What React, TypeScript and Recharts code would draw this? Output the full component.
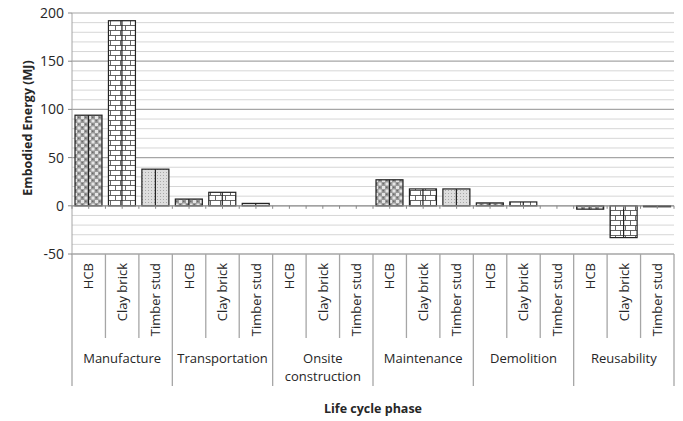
import { Bar, BarChart, CartesianGrid, ReferenceLine, XAxis, YAxis } from "recharts";

// Embodied energy per life cycle phase, one bar per wall material.

const phases = [
  ["Manufacture"],
  ["Transportation"],
  ["Onsite", "construction"],
  ["Maintenance"],
  ["Demolition"],
  ["Reusability"],
];
const materials = ["HCB", "Clay brick", "Timber stud"];

const hcb = [94, 7, 0, 27, 3, -3.5];
const clayBrick = [192, 14, 0, 17.5, 4, -33];
const timberStud = [38, 2.5, 0, 17.5, 0, -1];

const yTicks = [-50, -40, -30, -20, -10, 0, 10, 20, 30, 40, 50, 60, 70, 80, 90, 100, 110, 120, 130, 140, 150, 160, 170, 180, 190, 200];

const series = [hcb, clayBrick, timberStud];
const rows = phases.flatMap((p, i) =>
  materials.map((m, j) => ({ key: `${i}-${j}`, phase: p, material: m, value: series[j][i] }))
);

const W = 683;
const H = 421;
const TOP = 13;
const LEFT = 72;
const RIGHT = 9;
const X_AXIS_H = 167;
const PLOT_W = W - LEFT - RIGHT;
const PLOT_H = H - TOP - X_AXIS_H;
const AXIS_Y = TOP + PLOT_H;
const ZERO_Y = TOP + (200 / 250) * PLOT_H;
const SLOT = PLOT_W / rows.length;

const FONT = "'Open Sans', 'DejaVu Sans', sans-serif";
const TEXT = "#262626";
const LINE = "#a6a6a6";

const patternFor: Record<string, string> = {
  HCB: "url(#hcb)",
  "Clay brick": "url(#brick)",
  "Timber stud": "url(#timber)",
};

// grid lines: every 10 MJ, darker every 50
const GridLine = (props: any) => {
  const { x1, x2, y1, y2 } = props;
  const v = Math.round(200 - ((y1 - TOP) / PLOT_H) * 250);
  const major = v % 50 === 0 && v !== 0;
  return (
    <line
      x1={x1}
      x2={x2}
      y1={y1}
      y2={y2}
      stroke={major ? LINE : "#d6d6d6"}
      strokeWidth={major ? 1.2 : 1}
    />
  );
};

const PatternBar = (props: any) => {
  const { x, y, width, height, payload } = props;
  const top = Math.min(y, y + height);
  const h = Math.abs(height);
  if (!h) return null;
  return (
    <g>
      <rect x={x} y={top} width={width} height={h} fill={patternFor[payload.material]} stroke="#222" strokeWidth={1.2} />
      <line x1={x + width / 2} x2={x + width / 2} y1={top} y2={top + h} stroke="#222" strokeWidth={1.2} />
    </g>
  );
};

const CategoryTick = (props: any) => {
  const { x, payload } = props;
  const idx = payload.index;
  const row = rows[idx];
  const left = x - SLOT / 2;
  const groupStart = idx % 3 === 0;
  const last = idx === rows.length - 1;
  return (
    <g>
      {/* small ticks on the zero line */}
      <line x1={left} x2={left} y1={ZERO_Y} y2={ZERO_Y + 3} stroke="#888" />
      <line x1={x} x2={x} y1={ZERO_Y} y2={ZERO_Y + 3} stroke="#888" />
      {last && <line x1={left + SLOT} x2={left + SLOT} y1={ZERO_Y} y2={ZERO_Y + 3} stroke="#888" />}
      <line x1={left} x2={left} y1={AXIS_Y} y2={groupStart ? 386 : 338} stroke={LINE} strokeWidth={1.3} />
      {last && <line x1={left + SLOT} x2={left + SLOT} y1={AXIS_Y} y2={386} stroke={LINE} strokeWidth={1.3} />}
      <text
        x={x}
        y={263}
        transform={`rotate(-90, ${x}, 263)`}
        textAnchor="end"
        dy="0.36em"
        fontSize={13}
        fontFamily={FONT}
        fill={TEXT}
      >
        {row.material}
      </text>
      {idx % 3 === 1 && (
        <text x={x} y={358} textAnchor="middle" fontSize={13} fontFamily={FONT} fill={TEXT}>
          {row.phase.map((line, k) => (
            <tspan key={k} x={x} dy={k === 0 ? "0.36em" : 18}>
              {line}
            </tspan>
          ))}
        </text>
      )}
    </g>
  );
};

const ValueTick = (props: any) => {
  const { y, payload } = props;
  if (payload.value % 50 !== 0) return null;
  return (
    <g>
      <line x1={LEFT - 4} x2={LEFT} y1={y} y2={y} stroke="#888" />
      <text x={LEFT - 8} y={y} dy="0.36em" textAnchor="end" fontSize={14} fontFamily={FONT} fill={TEXT}>
        {payload.value}
      </text>
    </g>
  );
};

export default function App() {
  if (typeof document !== "undefined") document.body.style.margin = "0";
  return (
    <div style={{ width: W, height: H, background: "#fff" }}>
      <BarChart
        width={W}
        height={H}
        data={rows}
        margin={{ top: TOP, right: RIGHT, left: 0, bottom: 0 }}
        barSize={27}
      >
        <defs>
          <pattern id="hcb" width={7} height={7} patternUnits="userSpaceOnUse">
            <rect width={7} height={7} fill="#9a9a9a" />
            <rect x={0.5} y={0.5} width={3} height={3} fill="#e6e6e6" />
            <rect x={4} y={4} width={3} height={3} fill="#e6e6e6" />
            <circle cx={5.2} cy={1.8} r={0.7} fill="#5a5a5a" />
            <circle cx={1.8} cy={5.2} r={0.7} fill="#5a5a5a" />
          </pattern>
          <pattern id="brick" width={10} height={10} patternUnits="userSpaceOnUse">
            <rect width={10} height={10} fill="#fff" />
            <line x1={0} x2={10} y1={0.5} y2={0.5} stroke="#555" strokeWidth={0.9} />
            <line x1={0} x2={10} y1={5.5} y2={5.5} stroke="#555" strokeWidth={0.9} />
            <line x1={0.5} x2={0.5} y1={0} y2={5.5} stroke="#555" strokeWidth={0.9} />
            <line x1={5.5} x2={5.5} y1={5.5} y2={10} stroke="#555" strokeWidth={0.9} />
          </pattern>
          <pattern id="timber" width={3} height={3} patternUnits="userSpaceOnUse">
            <rect width={3} height={3} fill="#dedede" />
            <rect x={1} y={1} width={1} height={1} fill="#a8a8a8" />
          </pattern>
        </defs>
        <CartesianGrid vertical={false} horizontal={(p: any) => <GridLine key={p.key} {...p} />} />
        <ReferenceLine y={0} stroke="#8c8c8c" strokeWidth={1.2} />
        <XAxis
          dataKey="key"
          height={X_AXIS_H}
          interval={0}
          tickLine={false}
          axisLine={{ stroke: LINE }}
          tick={<CategoryTick />}
          label={{
            content: () => (
              <text x={LEFT + PLOT_W / 2} y={408} textAnchor="middle" dy="0.36em" fontSize={12.5} fontWeight="bold" fontFamily={FONT} fill={TEXT}>
                Life cycle phase
              </text>
            ),
          }}
        />
        <YAxis
          width={LEFT}
          domain={[-50, 200]}
          ticks={yTicks}
          interval={0}
          tickLine={false}
          axisLine={{ stroke: LINE }}
          tick={<ValueTick />}
          label={{
            content: () => (
              <text
                x={27}
                y={128}
                transform="rotate(-90, 27, 128)"
                textAnchor="middle"
                dy="0.36em"
                fontSize={12.5}
                fontWeight="bold"
                fontFamily={FONT}
                fill={TEXT}
              >
                Embodied Energy (MJ)
              </text>
            ),
          }}
        />
        <Bar dataKey="value" shape={<PatternBar />} isAnimationActive={false} />
      </BarChart>
    </div>
  );
}
